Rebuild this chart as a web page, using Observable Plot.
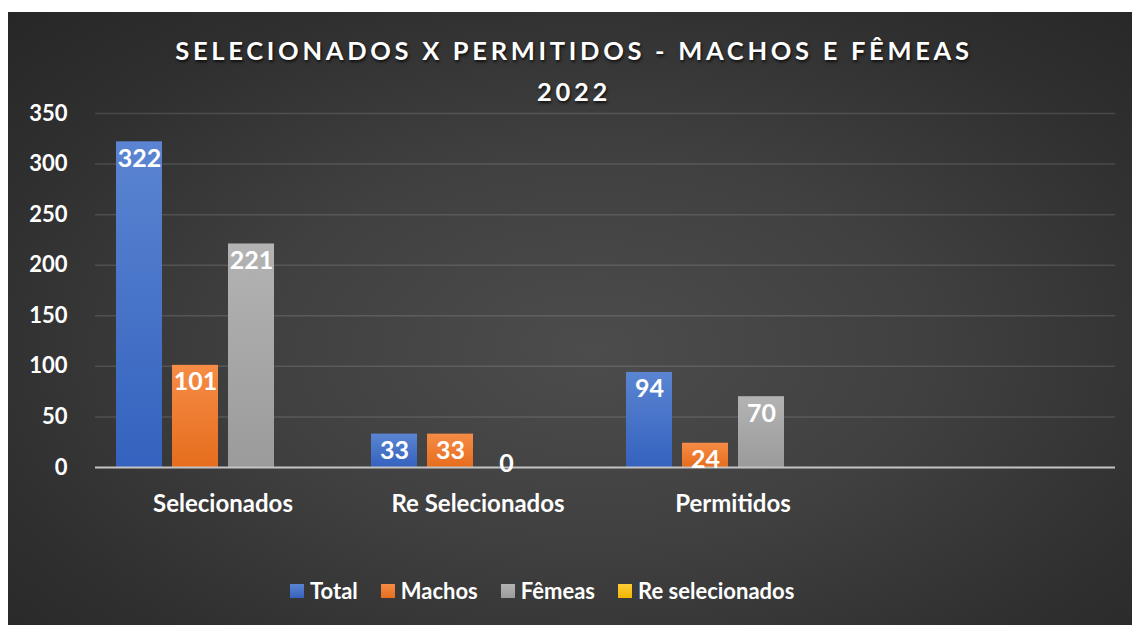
<!DOCTYPE html>
<html><head><meta charset="utf-8">
<script src="https://cdn.jsdelivr.net/npm/d3@7"></script>
<script src="https://cdn.jsdelivr.net/npm/@observablehq/plot@0.6"></script>
<style>
body{margin:0;background:#fff;font-family:Lato,"Open Sans",sans-serif;}
#chart{position:absolute;left:8px;top:12px;width:1124px;height:613px;overflow:hidden;
 background:radial-gradient(ellipse 75% 80% at 52% 55%, #4c4c4c 0%, #404040 40%, #2f2f2f 75%, #262626 100%);}
#title{position:absolute;top:18px;left:0;width:1132px;text-align:center;color:#fff;font-weight:bold;font-size:25.5px;letter-spacing:3.7px;line-height:41px;text-shadow:1px 2px 3px rgba(0,0,0,0.7);}
#plot{position:absolute;top:88px;left:0;}
#legend{position:absolute;top:565px;left:282px;display:flex;align-items:center;color:#fff;font-weight:bold;font-size:22px;white-space:nowrap;}
#legend .it{display:flex;align-items:center;margin-right:23px;}
#legend .sw{width:14px;height:14px;margin-right:6px;}
</style></head>
<body>
<div id="chart">
 <div id="title">SELECIONADOS X PERMITIDOS - MACHOS E FÊMEAS<br>2022</div>
 <div id="plot"></div>
 <div id="legend"></div>
</div>
<script>
const categories = ["Selecionados", "Re Selecionados", "Permitidos", ""];
const series = ["Total", "Machos", "Fêmeas", "Re selecionados"];
const totalValues = [322, 33, 94];
const machosValues = [101, 33, 24];
const femeasValues = [221, 0, 70];
const reSelecionadosValues = [];
const yTicks = [0, 50, 100, 150, 200, 250, 300, 350];
const colorsTop = ["#5b85d2", "#f68c46", "#b3b3b3", "#ffcd3a"];
const colorsBottom = ["#3462be", "#e66d1d", "#9b9b9b", "#f2b600"];

const seriesValues = [totalValues, machosValues, femeasValues, reSelecionadosValues];
const rows = [];
series.forEach((s, i) => {
  seriesValues[i].forEach((v, j) => {
    if (v !== undefined && v !== null) rows.push({series: s, cat: categories[j], value: v, si: i});
  });
});
const gridRows = [];
categories.forEach(c => yTicks.filter(t => t > 0).forEach(t => gridRows.push({cat: c, y: t})));
const baseRows = categories.map(c => ({cat: c, y: 0}));

const barMarks = series.map((s, i) =>
  Plot.barY(rows.filter(r => r.si === i), {fx: "cat", x: "series", y: "value", fill: `url(#grad${i})`})
);

const chart = Plot.plot({
  width: 1124, height: 430,
  marginLeft: 86, marginRight: 17, marginTop: 13, marginBottom: 63,
  style: "background:transparent;color:#fff;font-family:Lato,'Open Sans',sans-serif;font-size:22px;font-weight:bold;",
  fx: {domain: categories, padding: 0, label: null, axis: "bottom", tickSize: 0, tickPadding: 27, fontSize: 24},
  x: {domain: series, axis: null, paddingInner: 10 / 56, paddingOuter: 0.366},
  y: {domain: [0, 350], ticks: yTicks, tickSize: 0, tickPadding: 28, label: null},
  marks: [
    Plot.ruleY(gridRows, {fx: "cat", y: "y", stroke: "#ffffff", strokeOpacity: 0.13, strokeWidth: 1.5}),
    ...barMarks,
    Plot.ruleY(baseRows, {fx: "cat", y: "y", stroke: "#c4c4c4", strokeWidth: 2}),
    Plot.text(rows, {fx: "cat", x: "series", y: d => Math.max(d.value, 20), dy: 17,
      text: d => String(d.value), fill: "#fff", fontSize: 25, fontWeight: "bold"})
  ]
});
const defs = series.map((s, i) =>
  `<linearGradient id="grad${i}" x1="0" y1="0" x2="0" y2="1"><stop offset="0" stop-color="${colorsTop[i]}"/><stop offset="1" stop-color="${colorsBottom[i]}"/></linearGradient>`
).join("");
chart.insertAdjacentHTML("afterbegin", `<defs>${defs}</defs>`);
chart.querySelectorAll("[aria-label='fx-axis tick label'] text, g[aria-label='fx-axis tick label']").forEach(el => el.setAttribute("font-size", 24));
document.getElementById("plot").appendChild(chart);

const legend = document.getElementById("legend");
series.forEach((s, i) => {
  const it = document.createElement("div");
  it.className = "it";
  it.innerHTML = `<div class="sw" style="background:linear-gradient(${colorsTop[i]},${colorsBottom[i]})"></div><span>${s}</span>`;
  legend.appendChild(it);
});
</script>
</body></html>
